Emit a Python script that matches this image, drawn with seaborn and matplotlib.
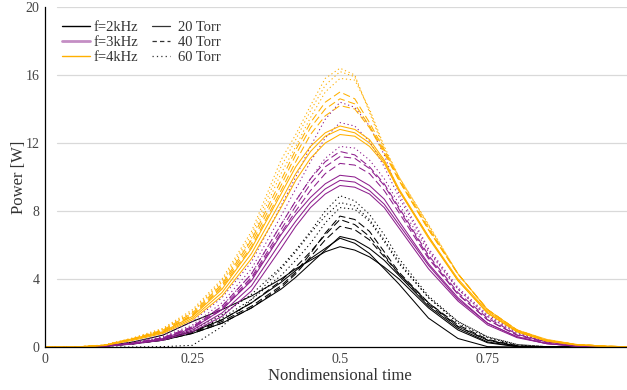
import numpy as np
import pandas as pd
import matplotlib
matplotlib.use("Agg")
import matplotlib.pyplot as plt
import seaborn as sns
from matplotlib.lines import Line2D

# Nondimensional time samples
t = [0, 0.05, 0.1, 0.15, 0.2, 0.25, 0.3, 0.35, 0.4, 0.425, 0.45, 0.475, 0.5,
     0.525, 0.55, 0.575, 0.6, 0.65, 0.7, 0.75, 0.8, 0.85, 0.9, 0.95, 1.0]

frequencies = ["f=2kHz", "f=3kHz", "f=4kHz"]
pressures = ["20 Torr", "40 Torr", "60 Torr"]

# f = 2 kHz
f2_p20 = [
    [0, 0, 0.05, 0.2, 0.45, 0.9, 1.6, 2.6, 3.8, 4.5, 5.2, 5.8, 6.4, 6.1, 5.5, 4.6, 3.7, 1.7, 0.5, 0.02, 0, 0, 0, 0, 0],
    [0, 0, 0.05, 0.3, 0.7, 1.5, 2.2, 3.0, 4.0, 4.6, 5.1, 5.6, 5.9, 5.7, 5.3, 4.7, 4.0, 2.3, 1.0, 0.25, 0.02, 0, 0, 0, 0],
    [0, 0, 0.05, 0.2, 0.4, 0.8, 1.4, 2.3, 3.4, 4.1, 4.9, 5.7, 6.5, 6.3, 5.8, 5.1, 4.2, 2.4, 1.1, 0.3, 0.03, 0, 0, 0, 0],
]
f2_p40 = [
    [0, 0, 0.05, 0.2, 0.45, 0.85, 1.5, 2.4, 3.6, 4.4, 5.5, 6.7, 7.7, 7.5, 6.8, 5.6, 4.4, 2.6, 1.2, 0.4, 0.05, 0, 0, 0, 0],
    [0, 0, 0.05, 0.2, 0.5, 0.9, 1.6, 2.6, 3.9, 4.7, 5.6, 6.6, 7.5, 7.2, 6.5, 5.4, 4.3, 2.5, 1.2, 0.4, 0.05, 0, 0, 0, 0],
    [0, 0, 0.04, 0.18, 0.4, 0.8, 1.4, 2.3, 3.5, 4.3, 5.3, 6.3, 7.1, 6.9, 6.3, 5.3, 4.3, 2.6, 1.3, 0.45, 0.08, 0, 0, 0, 0],
]
f2_p60 = [
    [0, 0, 0.05, 0.2, 0.5, 1.0, 1.9, 3.1, 4.7, 5.7, 6.8, 8.0, 8.9, 8.6, 7.8, 6.6, 5.2, 3.0, 1.5, 0.6, 0.15, 0.02, 0, 0, 0],
    [0, 0, 0, 0, 0.02, 0.1, 1.2, 2.8, 4.6, 5.6, 6.7, 7.7, 8.5, 8.3, 7.5, 6.3, 5.0, 2.9, 1.4, 0.55, 0.12, 0.02, 0, 0, 0],
    [0, 0, 0.05, 0.2, 0.5, 0.9, 1.7, 2.8, 4.2, 5.1, 6.1, 7.3, 8.2, 8.1, 7.4, 6.2, 4.9, 2.9, 1.5, 0.6, 0.15, 0.02, 0, 0, 0],
]
# f = 3 kHz
f3_p20 = [
    [0, 0, 0.05, 0.2, 0.5, 1.1, 2.2, 3.9, 6.6, 7.8, 8.8, 9.6, 10.1, 10.0, 9.5, 8.7, 7.4, 4.9, 2.9, 1.4, 0.6, 0.2, 0.05, 0, 0],
    [0, 0, 0.05, 0.2, 0.45, 1.0, 2.0, 3.6, 6.2, 7.4, 8.5, 9.3, 9.8, 9.7, 9.2, 8.4, 7.2, 4.8, 2.8, 1.4, 0.6, 0.2, 0.05, 0, 0],
    [0, 0, 0.04, 0.18, 0.4, 0.9, 1.8, 3.3, 5.8, 7.1, 8.2, 9.0, 9.5, 9.4, 9.0, 8.2, 7.0, 4.6, 2.7, 1.3, 0.55, 0.2, 0.05, 0, 0],
]
f3_p40 = [
    [0, 0, 0.05, 0.25, 0.55, 1.2, 2.4, 4.3, 7.2, 8.6, 9.9, 10.9, 11.5, 11.3, 10.6, 9.6, 8.2, 5.4, 3.2, 1.7, 0.75, 0.3, 0.1, 0, 0],
    [0, 0, 0.05, 0.22, 0.5, 1.15, 2.3, 4.1, 6.9, 8.3, 9.6, 10.6, 11.2, 11.1, 10.5, 9.5, 8.1, 5.3, 3.1, 1.6, 0.7, 0.3, 0.1, 0, 0],
    [0, 0, 0.05, 0.2, 0.5, 1.1, 2.2, 4.0, 6.7, 8.0, 9.2, 10.2, 10.8, 10.7, 10.2, 9.2, 7.9, 5.2, 3.1, 1.6, 0.7, 0.25, 0.08, 0, 0],
]
f3_p60 = [
    [0, 0, 0.06, 0.3, 0.7, 1.5, 2.9, 5.0, 8.3, 10.0, 11.8, 13.4, 14.4, 14.1, 13.0, 11.3, 9.0, 5.8, 3.5, 1.9, 0.9, 0.35, 0.1, 0, 0],
    [0, 0, 0.05, 0.25, 0.6, 1.3, 2.6, 4.6, 7.7, 9.3, 10.9, 12.3, 13.2, 13.0, 12.1, 10.6, 8.8, 5.7, 3.4, 1.8, 0.85, 0.3, 0.1, 0, 0],
    [0, 0, 0.05, 0.22, 0.55, 1.2, 2.4, 4.3, 7.2, 8.6, 9.9, 11.1, 11.8, 11.7, 11.0, 9.9, 8.4, 5.6, 3.4, 1.8, 0.8, 0.3, 0.1, 0, 0],
]
# f = 4 kHz
f4_p20 = [
    [0, 0, 0.1, 0.5, 0.9, 1.8, 3.4, 5.8, 9.0, 10.6, 11.8, 12.6, 13.0, 12.8, 12.2, 11.0, 9.3, 6.5, 3.9, 2.0, 0.9, 0.35, 0.12, 0.03, 0],
    [0, 0, 0.1, 0.45, 0.85, 1.7, 3.2, 5.5, 8.6, 10.2, 11.5, 12.4, 12.8, 12.6, 12.0, 10.9, 9.2, 6.4, 3.9, 2.0, 0.9, 0.35, 0.12, 0.03, 0],
    [0, 0, 0.08, 0.4, 0.8, 1.6, 3.0, 5.2, 8.2, 9.8, 11.1, 12.0, 12.5, 12.4, 11.8, 10.8, 9.2, 6.5, 4.0, 2.1, 0.95, 0.4, 0.15, 0.05, 0],
]
f4_p40 = [
    [0, 0, 0.1, 0.5, 1.0, 2.0, 3.7, 6.3, 9.8, 11.6, 13.2, 14.4, 15.0, 14.6, 13.2, 11.6, 9.9, 7.0, 4.3, 2.2, 1.0, 0.4, 0.15, 0.05, 0],
    [0, 0, 0.1, 0.5, 0.95, 1.9, 3.6, 6.1, 9.5, 11.3, 12.9, 14.0, 14.6, 14.3, 13.0, 11.5, 9.8, 6.9, 4.3, 2.2, 1.0, 0.4, 0.15, 0.05, 0],
    [0, 0, 0.1, 0.45, 0.9, 1.85, 3.5, 5.9, 9.2, 10.9, 12.5, 13.6, 14.2, 14.0, 12.9, 11.4, 9.8, 6.9, 4.3, 2.2, 1.0, 0.4, 0.15, 0.05, 0],
]
f4_p60 = [
    [0, 0, 0.12, 0.55, 1.1, 2.2, 4.0, 6.8, 11.0, 12.5, 14.2, 15.8, 16.4, 16.0, 13.8, 11.6, 10.0, 7.2, 4.3, 2.2, 1.0, 0.45, 0.15, 0.05, 0],
    [0, 0, 0.1, 0.5, 1.05, 2.1, 3.9, 6.6, 10.6, 12.2, 13.9, 15.4, 16.2, 15.9, 13.9, 11.7, 10.0, 7.2, 4.3, 2.2, 1.0, 0.45, 0.15, 0.05, 0],
    [0, 0, 0.1, 0.5, 1.0, 2.05, 3.8, 6.4, 10.2, 11.8, 13.5, 15.0, 15.8, 15.7, 14.0, 11.8, 10.0, 7.1, 4.3, 2.2, 1.0, 0.45, 0.15, 0.05, 0],
]

groups = {
    ("f=2kHz", "20 Torr"): f2_p20, ("f=2kHz", "40 Torr"): f2_p40, ("f=2kHz", "60 Torr"): f2_p60,
    ("f=3kHz", "20 Torr"): f3_p20, ("f=3kHz", "40 Torr"): f3_p40, ("f=3kHz", "60 Torr"): f3_p60,
    ("f=4kHz", "20 Torr"): f4_p20, ("f=4kHz", "40 Torr"): f4_p40, ("f=4kHz", "60 Torr"): f4_p60,
}

rows = []
for (f, p), runs in groups.items():
    for k, vals in enumerate(runs):
        for ti, v in zip(t, vals):
            rows.append({"t": ti, "P": v, "freq": f, "pressure": p, "run": f"{f}-{p}-{k}"})
df = pd.DataFrame(rows)

sns.set_theme(style="white")
plt.rcParams["font.family"] = ["Liberation Serif", "DejaVu Serif"]

colors = {"f=2kHz": "#000000", "f=3kHz": "#8e1f8e", "f=4kHz": "#ffb000"}
dashes = {"20 Torr": "", "40 Torr": (7, 3.5), "60 Torr": (1.2, 2.6)}

fig = plt.figure(figsize=(6.27, 3.90), dpi=100)
ax = fig.add_axes([45 / 627, 43 / 390, 590 / 627, 340 / 390])

for y in [4, 8, 12, 16, 20]:
    ax.axhline(y, xmin=0.02, xmax=1, color="#d9d9d9", lw=0.9, zorder=0)

sns.lineplot(data=df, x="t", y="P", hue="freq", style="pressure", units="run",
             estimator=None, palette=colors, dashes=dashes, hue_order=frequencies,
             style_order=pressures, lw=0.75, legend=False, ax=ax)

ax.set_xlim(0, 1)
ax.set_ylim(0, 20)
ax.set_xticks([0, 0.25, 0.5, 0.75])
ax.set_xticklabels(["0", "0.25", "0.5", "0.75"])
ax.set_yticks([0, 4, 8, 12, 16, 20])
ax.set_yticklabels(["0", "4", "8", "12", "16", "20"])
ax.tick_params(axis="both", direction="in", length=3.5, width=0.8, color="black",
               labelsize=10, labelcolor="#444444", pad=4)
for s in ["top", "right"]:
    ax.spines[s].set_visible(False)
for s in ["left", "bottom"]:
    ax.spines[s].set_color("black")
    ax.spines[s].set_linewidth(0.9)

ax.set_xlabel("Nondimensional time", fontsize=12, color="#333333", labelpad=2)
ax.set_ylabel("Power [W]", fontsize=12, color="#333333", labelpad=-1)

h1 = [Line2D([], [], color="#000000", lw=1.0),
      Line2D([], [], color="#c48ec4", lw=2.0),
      Line2D([], [], color="#ffb000", lw=1.0)]
leg1 = ax.legend(h1, frequencies, loc="upper left", bbox_to_anchor=(17 / 590, 1 - 14 / 340),
                 frameon=False, fontsize=10.5, handlelength=1.95, handletextpad=0.2,
                 labelspacing=0.12, borderpad=0, borderaxespad=0)
for tx in leg1.get_texts():
    tx.set_color("#333333")
ax.add_artist(leg1)
h2 = [Line2D([], [], color="#333333", lw=0.9),
      Line2D([], [], color="#333333", lw=0.9, dashes=(3.5, 2.5)),
      Line2D([], [], color="#333333", lw=0.9, dashes=(1.0, 2.5))]
leg2 = ax.legend(h2, pressures, loc="upper left", bbox_to_anchor=(107 / 590, 1 - 14 / 340),
                 frameon=False, fontsize=10.5, handlelength=1.2, handletextpad=0.55,
                 labelspacing=0.12, borderpad=0, borderaxespad=0)
for tx in leg2.get_texts():
    tx.set_color("#333333")

fig.savefig("out.png", dpi=100)
